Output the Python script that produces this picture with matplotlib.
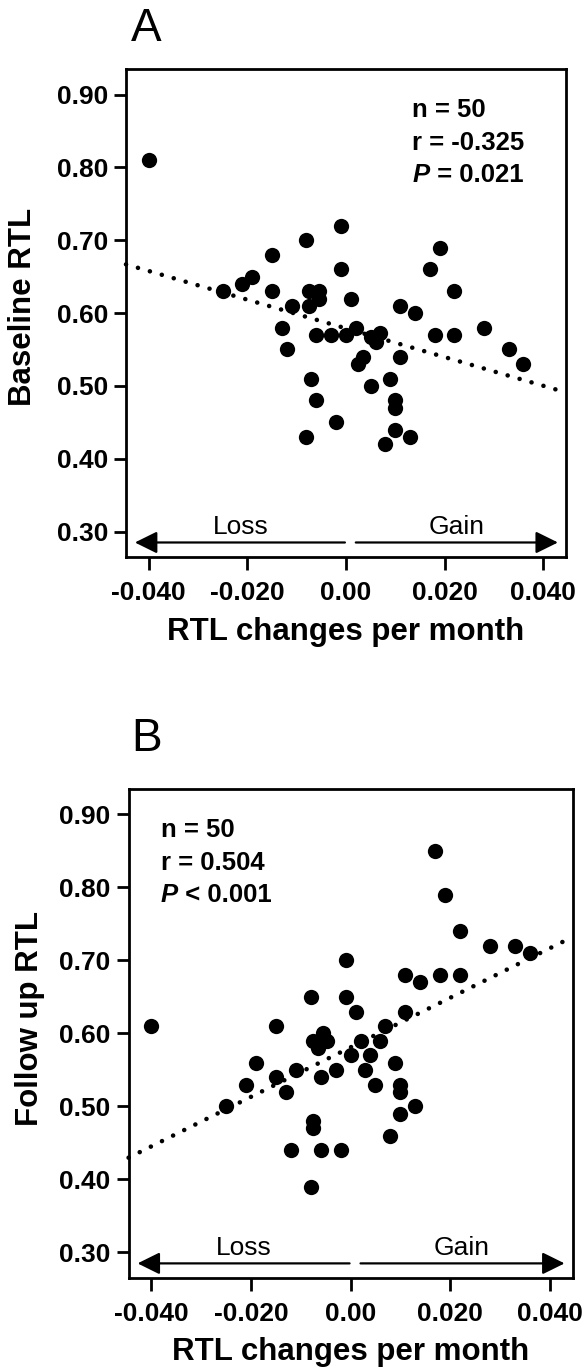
import matplotlib

matplotlib.use("Agg")
import matplotlib.pyplot as plt
import numpy as np

plt.rcParams["font.family"] = ["Liberation Sans", "DejaVu Sans"]

# panel A: RTL change per month vs baseline RTL
change_a = [-0.040, -0.025, -0.021, -0.019, -0.015, -0.015, -0.013, -0.012, -0.011, -0.008,
            -0.0075, -0.0055, -0.0075, -0.0055, -0.007, -0.006, -0.008, -0.006, -0.003, -0.002,
            -0.001, -0.001, 0.000, 0.001, 0.002, 0.0025, 0.0035, 0.005, 0.005, 0.007,
            0.006, 0.008, 0.009, 0.010, 0.010, 0.010, 0.011, 0.011, 0.013, 0.014,
            0.017, 0.018, 0.019, 0.022, 0.022, 0.028, 0.033, 0.036]
baseline = [0.81, 0.63, 0.64, 0.65, 0.68, 0.63, 0.58, 0.55, 0.61, 0.70,
            0.63, 0.63, 0.61, 0.62, 0.51, 0.48, 0.43, 0.57, 0.57, 0.45,
            0.72, 0.66, 0.57, 0.62, 0.58, 0.53, 0.54, 0.50, 0.567, 0.572,
            0.56, 0.42, 0.51, 0.48, 0.47, 0.44, 0.61, 0.54, 0.43, 0.60,
            0.66, 0.57, 0.69, 0.63, 0.57, 0.58, 0.55, 0.53]

# panel B: RTL change per month vs follow up RTL
change_b = [-0.040, -0.025, -0.021, -0.019, -0.015, -0.015, -0.013, -0.011, -0.012, -0.008,
            -0.008, -0.0075, -0.0075, -0.0075, -0.0055, -0.0065, -0.0048, -0.006, -0.006, -0.003,
            -0.002, -0.001, -0.001, 0.000, 0.001, 0.002, 0.003, 0.004, 0.005, 0.006,
            0.007, 0.008, 0.009, 0.010, 0.010, 0.010, 0.011, 0.011, 0.013, 0.014,
            0.017, 0.018, 0.019, 0.022, 0.022, 0.028, 0.033, 0.036]
followup = [0.61, 0.50, 0.53, 0.56, 0.61, 0.54, 0.52, 0.55, 0.44, 0.65,
            0.39, 0.48, 0.47, 0.59, 0.60, 0.58, 0.59, 0.54, 0.44, 0.55,
            0.44, 0.70, 0.65, 0.57, 0.63, 0.59, 0.55, 0.57, 0.53, 0.59,
            0.61, 0.46, 0.56, 0.53, 0.52, 0.49, 0.68, 0.63, 0.50, 0.67,
            0.85, 0.68, 0.79, 0.74, 0.68, 0.72, 0.72, 0.71]

# fitted lines (slope, intercept)
fit_a = (-1.97, 0.579)
fit_b = (3.39, 0.581)

stats_a = ["n = 50", "r = -0.325", "= 0.021"]
stats_b = ["n = 50", "r = 0.504", "< 0.001"]

xticks = [-0.040, -0.020, 0.00, 0.020, 0.040]
xticklabels = ["-0.040", "-0.020", "0.00", "0.020", "0.040"]
yticks = [0.30, 0.40, 0.50, 0.60, 0.70, 0.80, 0.90]
XLIM = (-0.0446, 0.0446)
YLIM = (0.265, 0.935)

fig = plt.figure(figsize=(5.88, 13.68), dpi=100)
ax_a = fig.add_axes([0.2143, 0.5928, 0.748, 0.3567])
ax_b = fig.add_axes([0.2187, 0.0658, 0.755, 0.3575])


def draw_panel(ax, x, y, fit, ylabel, stats, stats_x, letter, letter_pos, ylabel_pos, xpad):
    ax.plot(x, y, "o", color="black", markersize=11, markeredgewidth=0, zorder=3)
    xs = np.array(XLIM)
    ax.plot(xs, fit[0] * xs + fit[1], color="black", lw=3.3,
            linestyle=(0, (0.01, 2.7)), dash_capstyle="round", zorder=2, clip_on=False)

    ax.set_xlim(*XLIM)
    ax.set_ylim(*YLIM)
    ax.set_xticks(xticks)
    ax.set_xticklabels(xticklabels)
    ax.set_yticks(yticks)
    ax.set_yticklabels([f"{v:.2f}" for v in yticks])
    ax.tick_params(direction="out", length=9, width=2, labelsize=19, pad=4)
    ax.tick_params(axis="x", pad=8)
    for lab in ax.get_xticklabels() + ax.get_yticklabels():
        lab.set_fontweight("bold")
    for sp in ax.spines.values():
        sp.set_linewidth(2.0)

    ax.set_xlabel("RTL changes per month", fontsize=22.5, fontweight="bold", labelpad=xpad)
    ax.set_ylabel(ylabel, fontsize=22.5, fontweight="bold")
    ax.yaxis.set_label_coords(*ylabel_pos)

    # loss / gain arrows
    arrow = dict(arrowstyle="-|>,head_length=0.85,head_width=0.42", lw=1.6, color="black",
                 shrinkA=0, shrinkB=0, mutation_scale=16)
    ax.annotate("", xy=(-0.0428, 0.285), xytext=(-0.0002, 0.285), arrowprops=arrow)
    ax.annotate("", xy=(0.0430, 0.285), xytext=(0.002, 0.285), arrowprops=arrow)
    ax.text(-0.0214, 0.306, "Loss", fontsize=19, ha="center", va="center")
    ax.text(0.0224, 0.306, "Gain", fontsize=19, ha="center", va="center")

    # stats block
    for yy, s in zip([0.879, 0.834], stats[:2]):
        ax.text(stats_x, yy, s, fontsize=18.5, fontweight="bold", ha="left", va="center")
    p = ax.text(stats_x, 0.790, "P", fontsize=18.5, fontweight="bold", fontstyle="italic",
                ha="left", va="center")
    ax.annotate(" " + stats[2], xy=(1, 0), xycoords=p, fontsize=18.5, fontweight="bold",
                ha="left", va="bottom")

    ax.text(*letter_pos, letter, transform=ax.transAxes, fontsize=33, ha="center", va="center")


draw_panel(ax_a, change_a, baseline, fit_a, "Baseline RTL", stats_a, 0.0135, "A",
           (0.045, 1.082), (-0.200, 0.512), 9)
draw_panel(ax_b, change_b, followup, fit_b, "Follow up RTL", stats_b, -0.0381, "B",
           (0.041, 1.103), (-0.188, 0.531), 8)

fig.savefig("out.png", dpi=100)
